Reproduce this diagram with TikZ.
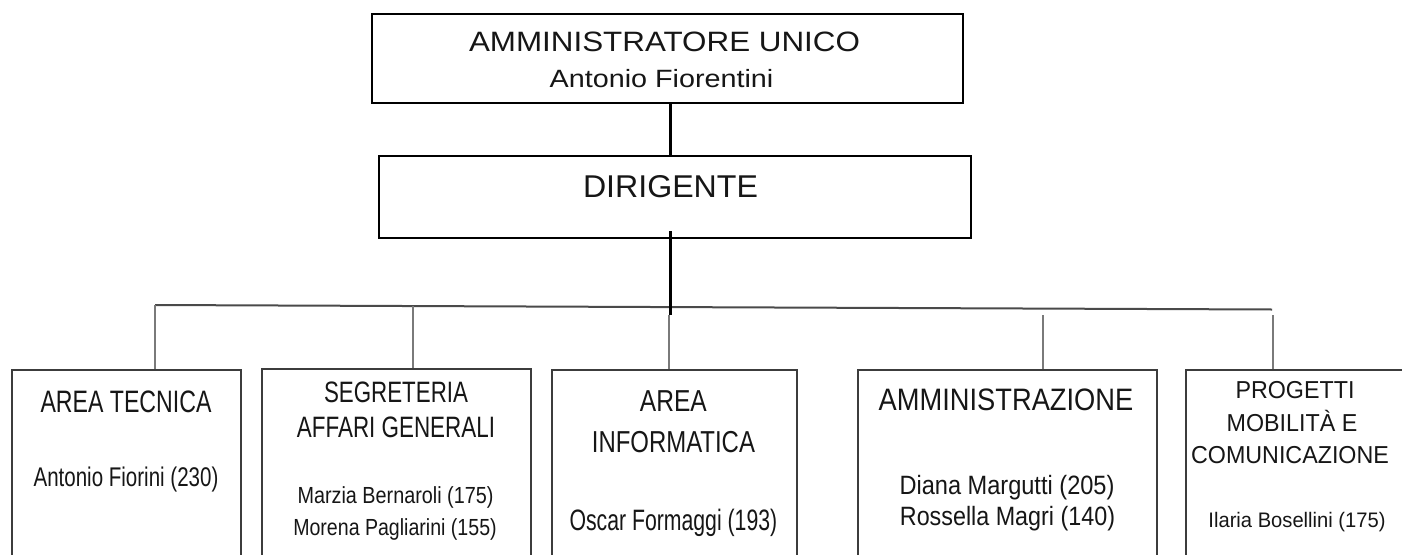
\documentclass[tikz,border=0pt]{standalone}
\usepackage{fontspec}
\usepackage{graphicx}
\setmainfont{Liberation Sans}
\definecolor{boxgray}{HTML}{3C3C3C}
\definecolor{dropgray}{HTML}{7A7A7A}
\definecolor{busgray}{HTML}{4A4A4A}
\definecolor{txtcol}{HTML}{161616}
\newcommand{\fsz}[1]{\fontsize{#1}{#1}\selectfont}
\newcommand{\hsc}[2]{\scalebox{#1}[1]{#2}}
\begin{document}
\begin{tikzpicture}[x=1pt,y=-1pt,
  topbox/.style={draw=black, line width=2pt, anchor=north west, inner sep=0pt},
  unitbox/.style={draw=boxgray, line width=2pt, anchor=north west, inner sep=0pt, minimum height=250pt},
  trunk/.style={line width=3pt, black},
  drop/.style={line width=2pt, dropgray},
  bus/.style={line width=2pt, busgray},
  lbl/.style={anchor=base, inner sep=0pt, text=txtcol},
]
\useasboundingbox (0,0) rectangle (1402,554);
\fill[white] (0,0) rectangle (1402,554);
\begin{scope}
\clip (0,0) rectangle (1402,554);

% boxes
\node[topbox, minimum width=591pt, minimum height=89pt] (au) at (371,13) {};
\node[topbox, minimum width=592pt, minimum height=82pt] (dir) at (378,155) {};
\node[unitbox, minimum width=229.3pt] (at) at (10.7,369) {};
\node[unitbox, minimum width=269.3pt] (sag) at (260.7,367.5) {};
\node[unitbox, minimum width=245.3pt] (ai) at (550.7,369) {};
\node[unitbox, minimum width=299.3pt] (amm) at (856.7,369) {};
\node[unitbox, minimum width=240pt] (pmc) at (1185,369) {};

% helper coordinates
\coordinate (tk) at (670,0);
\coordinate (tkend) at (670,315);
\coordinate (busL) at (155,305);
\coordinate (busR) at (1272,309.5);
\coordinate (d2) at (413,306);
\coordinate (d3) at (669,315);
\coordinate (d4) at (1043,315);
\coordinate (d5) at (1273,315);

% connectors
\draw[trunk] (au.south -| tk) -- (dir.north -| tk);
\draw[bus] (busL) -- (busR);
\draw[drop] (busL) -- (at.north -| busL);
\draw[drop] (d2) -- (sag.north -| d2);
\draw[drop] (d3) -- (ai.north -| d3);
\draw[drop] (d4) -- (amm.north -| d4);
\draw[drop] (d5) -- (pmc.north -| d5);
\draw[trunk] ([yshift=8pt]dir.south -| tk) -- (tkend);
\end{scope}

% texts
\node[lbl] (au1) at (664.5,51) {\fsz{28}\hsc{1.12}{AMMINISTRATORE UNICO}};
\node[lbl] (au2) at (661.5,87) {\fsz{25}\hsc{1.15}{Antonio Fiorentini}};
\node[lbl] (dir1) at (670.5,197) {\fsz{31.5}\hsc{1.02}{DIRIGENTE}};

\node[lbl] (at1) at (126,412) {\fsz{31}\hsc{0.746}{AREA TECNICA}};
\node[lbl] (at2) at (126,486) {\fsz{27}\hsc{0.76}{Antonio Fiorini (230)}};

\node[lbl] (sg1) at (396,402) {\fsz{29.5}\hsc{0.757}{SEGRETERIA}};
\node[lbl] (sg2) at (396,437) {\fsz{29.5}\hsc{0.76}{AFFARI GENERALI}};
\node[lbl] (sg3) at (395.5,503) {\fsz{23.3}\hsc{0.85}{Marzia Bernaroli (175)}};
\node[lbl] (sg4) at (395,535) {\fsz{23.3}\hsc{0.84}{Morena Pagliarini (155)}};

\node[lbl] (ai1) at (673.4,411) {\fsz{30.3}\hsc{0.81}{AREA}};
\node[lbl] (ai2) at (673.4,452) {\fsz{30.3}\hsc{0.79}{INFORMATICA}};
\node[lbl] (ai3) at (673.4,530) {\fsz{29.5}\hsc{0.72}{Oscar Formaggi (193)}};

\node[lbl] (am1) at (1006,410) {\fsz{31}\hsc{0.88}{AMMINISTRAZIONE}};
\node[lbl] (am2) at (1007,494) {\fsz{26.5}\hsc{0.89}{Diana Margutti (205)}};
\node[lbl] (am3) at (1007.5,525) {\fsz{26.5}\hsc{0.88}{Rossella Magri (140)}};

\node[lbl] (pm1) at (1295,398.5) {\fsz{24.5}\hsc{0.95}{PROGETTI}};
\node[lbl] (pm2) at (1292,431) {\fsz{24.5}\hsc{0.95}{MOBILITÀ E}};
\node[lbl] (pm3) at (1290,463) {\fsz{24.5}\hsc{0.95}{COMUNICAZIONE}};
\node[lbl] (pm4) at (1297,527) {\fsz{21}\hsc{0.96}{Ilaria Bosellini (175)}};
\end{tikzpicture}
\end{document}
